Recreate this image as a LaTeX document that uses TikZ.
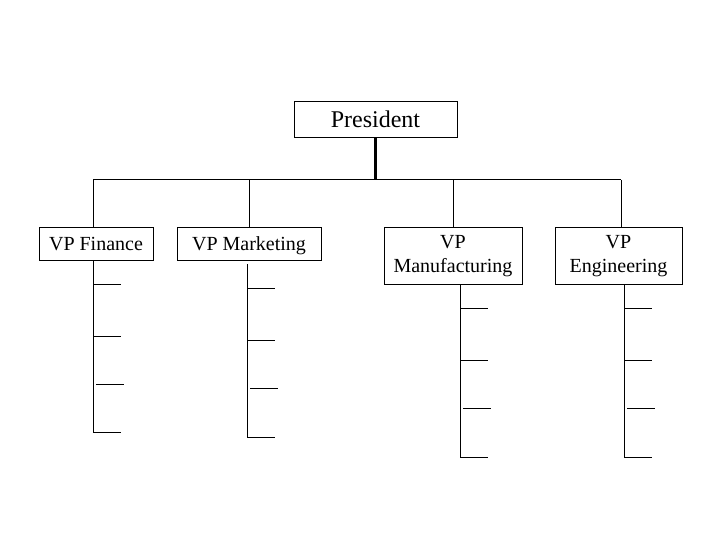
\documentclass[tikz,border=0pt]{standalone}
\usepackage{fontspec}
\setmainfont{Liberation Serif}
\usetikzlibrary{positioning}

\begin{document}
\begin{tikzpicture}[x=1pt, y=-1pt, line width=1pt,
  box/.style={draw, inner sep=0pt, align=center, font=\fontsize{20}{24}\selectfont},
  onebox/.style={box, text height=14pt, text depth=0pt}]
  \useasboundingbox (0,0) rectangle (720,540);
  \node[onebox, minimum width=163pt, minimum height=36pt, font=\fontsize{24}{28}\selectfont, text height=16pt] (pres) at (375.5,120) {President};
  \node[onebox, minimum width=114pt, minimum height=32pt] (fin) at (96,244)    {VP Finance};
  \node[onebox, minimum width=144pt, minimum height=32pt] (mkt) at (249,244)   {VP Marketing};
  \node[box, minimum width=138pt, minimum height=56pt] (mfg) at (453,256)   {VP\\Manufacturing};
  \node[box, minimum width=127pt, minimum height=56pt] (eng) at (618.5,256) {VP\\Engineering};
  \coordinate (bar)  at (375,180);
  \coordinate (dfin) at (93,180);
  \coordinate (dmkt) at (249,180);
  \coordinate (dmfg) at (453,180);
  \coordinate (deng) at (621,180);
  \draw[line width=2.5pt] (pres.south) -- (pres.south |- bar);
  \draw (dfin) -- (deng);
  \draw (dfin) -- (dfin |- fin.north);
  \draw (dmkt) -- (dmkt |- mkt.north);
  \draw (dmfg) -- (dmfg |- mfg.north);
  \draw (deng) -- (deng |- eng.north);
  \foreach \x/\ys/\ya/\yb/\yc/\yd in {93/260/284/336/384/432, 247/264/288/340/388/437,
                                     460/284/308/360/408/457, 624/284/308/360/408/457}{
    \draw (\x,\ys) -- (\x,\yd);
    \draw (\x,\ya) -- ++(28,0) (\x,\yb) -- ++(28,0) (\x+3,\yc) -- ++(28,0) (\x,\yd) -- ++(28,0);
  }
\end{tikzpicture}
\end{document}
